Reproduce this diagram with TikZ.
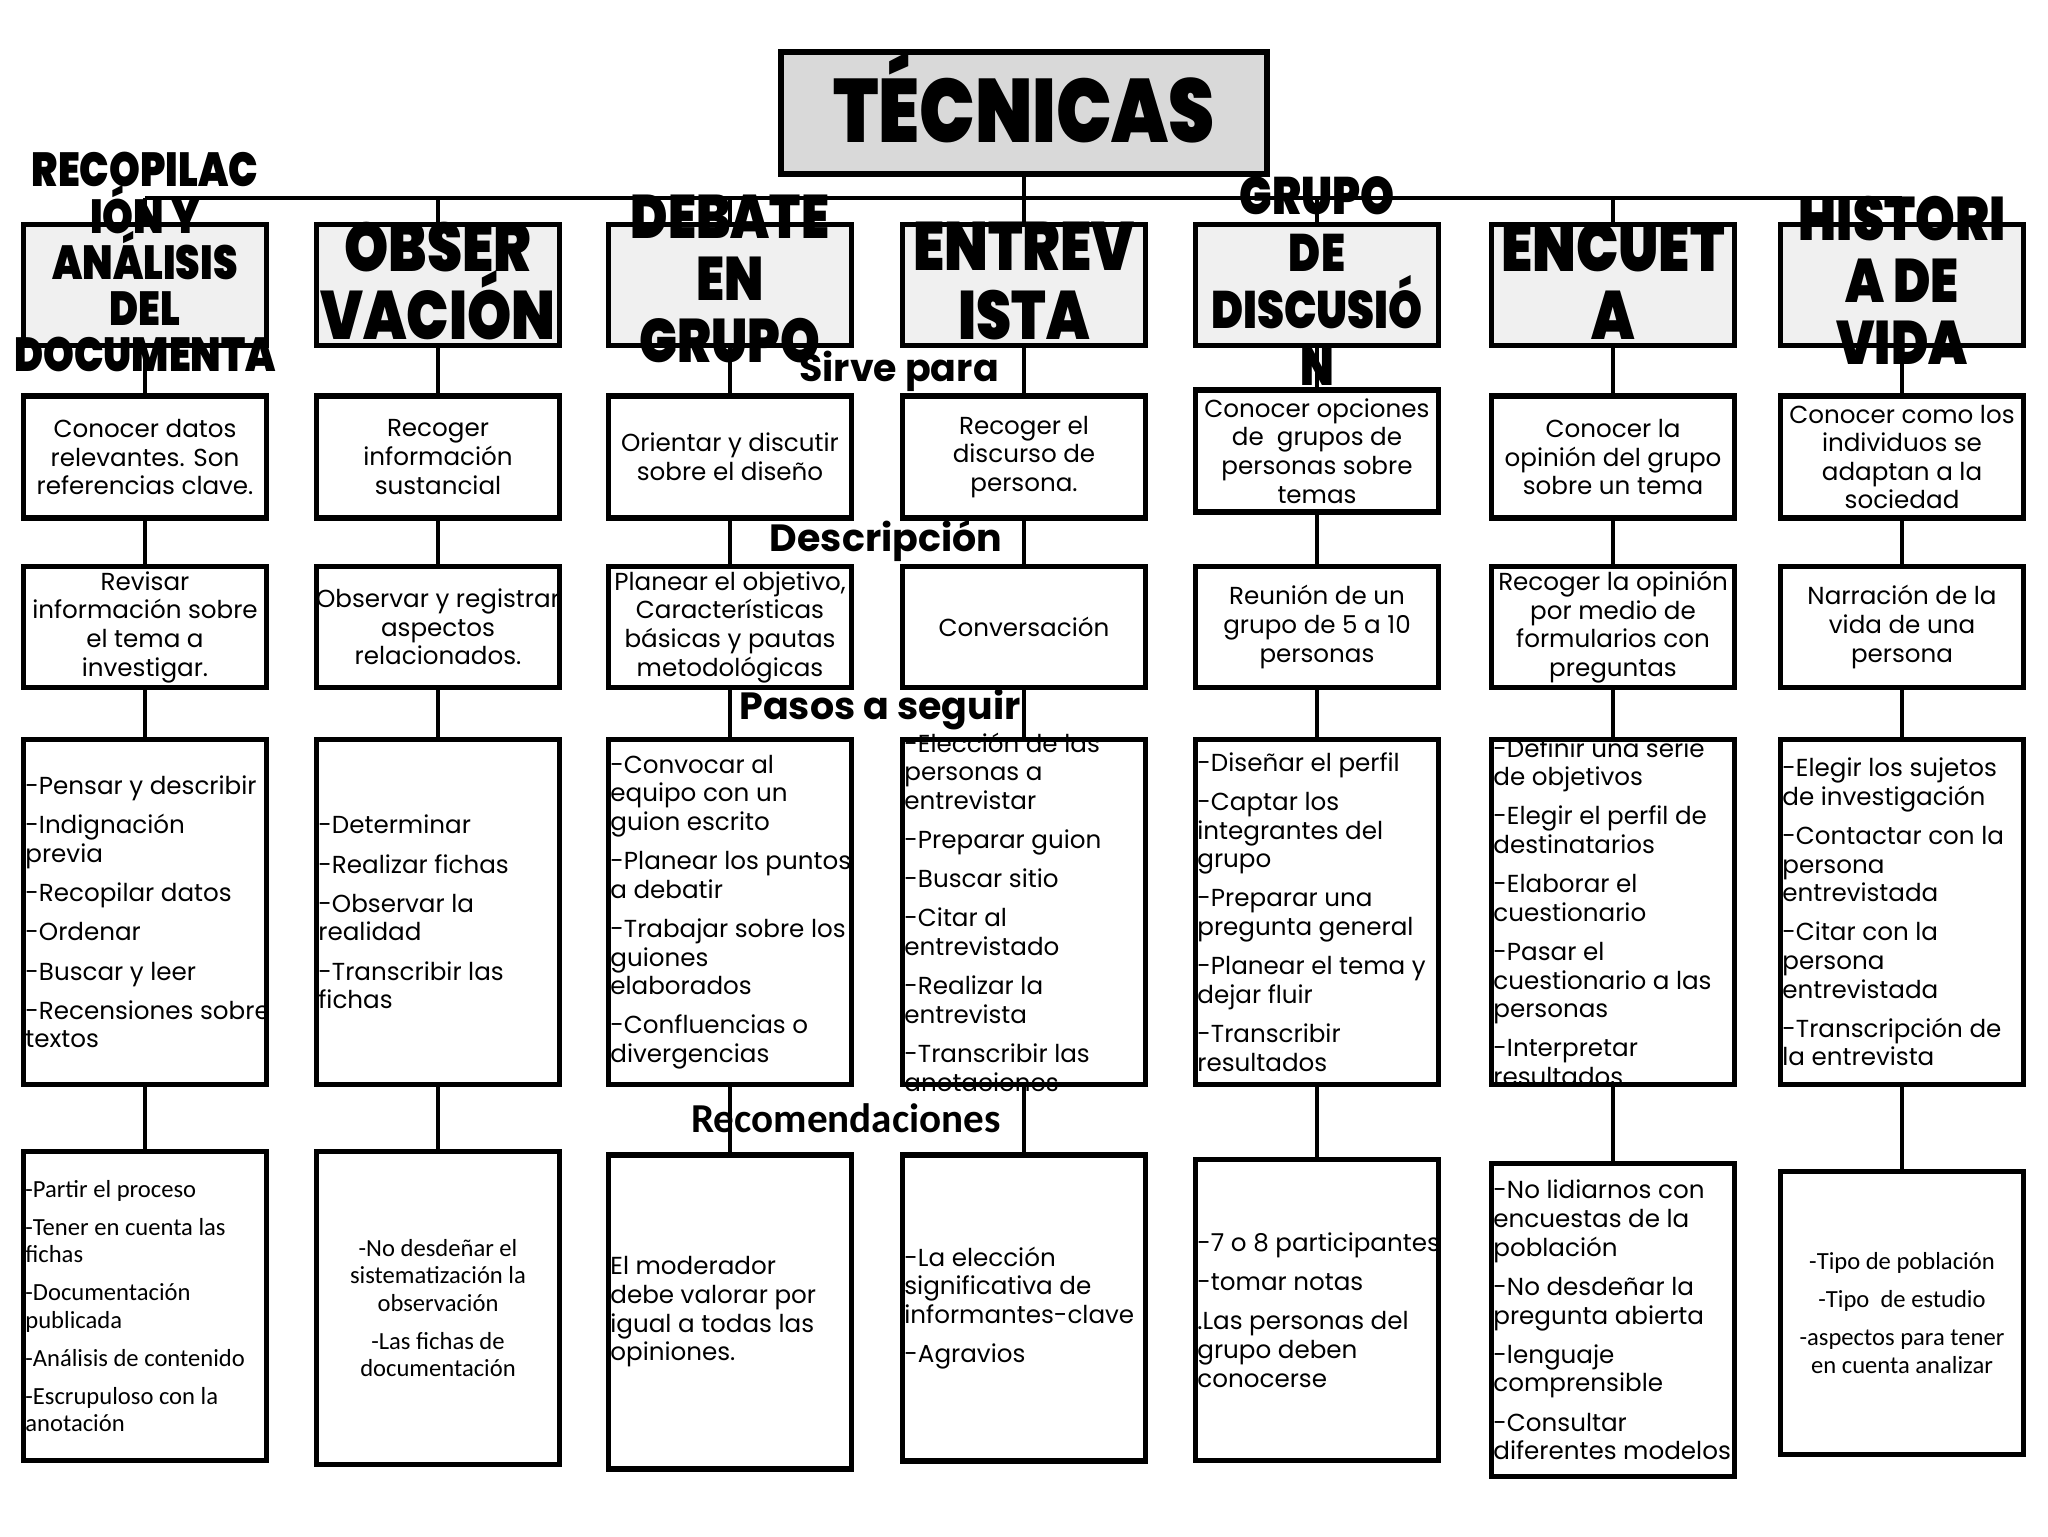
\documentclass[tikz,border=0pt]{standalone}
\usepackage{fontspec}
\setmainfont{Poppins}
\newfontfamily\clfont{Carlito}
\IfFontExistsTF{Poppins Black}
  {\newfontfamily\hdfont{Poppins Black}[BoldFont={Poppins Black}]\def\hdscale{0.82}}
  {\newfontfamily\hdfont{Poppins}\def\hdscale{0.86}}
\usepackage{graphicx}
\usepackage{tikz}
\usetikzlibrary{positioning,calc}
\definecolor{tcGrey} {RGB}{217,217,217}
\definecolor{tcGreyL}{RGB}{240,240,240}
\newcommand{\tcword}[1]{\scalebox{\hdscale}[1]{\vbox{\lineskiplimit=-\maxdimen
  \halign{\hfil##\hfil\cr#1\crcr}}}}
\newcommand{\tcgap}{\\[3pt]}

\begin{document}
\begin{tikzpicture}[x=0.1mm,y={(0,-0.1mm)},
  every node/.style={inner sep=0pt,font=\fontsize{7}{8.15}\selectfont},
  box/.style={draw,line width=1.6pt,fill=white,minimum width=24.3mm},
  hbox/.style={box,fill=tcGreyL,minimum height=12.1mm},
  tbox/.style={draw,line width=1.8pt,fill=tcGrey,minimum width=48.6mm,minimum height=12.2mm},
  link/.style={line width=1.2pt},
  ctxt/.style={align=center},
  ltxt/.style={align=left,anchor=west,xshift=0.4mm},
  cal/.style={font=\clfont\fontsize{7}{7.8}\selectfont},
  head/.style={font=\hdfont\bfseries\fontsize{19.5}{19.6}\selectfont},
  lbl/.style={font=\bfseries\fontsize{10.8}{12}\selectfont}
]
\useasboundingbox (0,0) rectangle (2048,1536);

% title
\node[tbox] (T) at (1024,113) {};

% boxes, column by column
\foreach \c/\x/\sy/\ry/\rh in {1/145/457/1306/309,2/438/457/1308/313,
    3/730/457/1312/314,4/1024/457/1308/306,5/1317/451/1310/301,
    6/1613/457/1320/313,7/1902/457/1313/283}{
  \node[hbox] (h\c) at (\x,285) {};
  \node[box,minimum height=12.2mm] (s\c) at (\x,\sy) {};
  \node[box,minimum height=12.1mm] (d\c) at (\x,627) {};
  \node[box,minimum height=34.5mm] (p\c) at (\x,912) {};
  \node[box,minimum height=\rh*0.1mm] (r\c) at (\x,\ry) {};
}

% row labels
\node[lbl] (lsirve) at (899,371) {Sirve para};
\node[lbl] (ldesc) at (886,541) {Descripción};
\node[lbl] (lpasos) at (880,709) {Pasos a seguir};
\node[lbl,font=\clfont\bfseries\fontsize{11.7}{13}\selectfont] (lrec) at (846,1118) {Recomendaciones};

% connectors
\coordinate (bar) at (0,198);
\draw[link] (h1.north |- bar) -- (h7.north |- bar);
\draw[link] (T) -- (h4);
\foreach \c in {1,...,7}{
  \draw[link] (h\c.north |- bar) -- (h\c);
  \draw[link] (h\c) -- (s\c);
  \draw[link] (s\c) -- (d\c);
  \draw[link] (d\c) -- (p\c);
  \draw[link] (p\c) -- (r\c);
}

% headings
\node[head,font=\hdfont\bfseries\fontsize{25.6}{26}\selectfont] (Tt) at (1024,97) {\tcword{TÉCNICAS}};
\node[head,font=\hdfont\bfseries\fontsize{13.6}{13.1}\selectfont] (h1t) at (145,262)
   {\tcword{RECOPILAC\cr IÓN Y\cr ANÁLISIS\cr DEL\cr DOCUMENTA}};
\node[head] (h2t) at (438,281) {\tcword{OBSER\cr VACIÓN}};
\node[head,font=\hdfont\bfseries\fontsize{17.5}{17.6}\selectfont] (h3t) at (730,279)
   {\tcword{DEBATE\cr EN\cr GRUPO}};
\node[head] (h4t) at (1024,281) {\tcword{ENTREV\cr ISTA}};
\node[head,font=\hdfont\bfseries\fontsize{15}{16.2}\selectfont] (h5t) at (1317,281)
   {\tcword{GRUPO\cr DE\cr DISCUSIÓ\cr N}};
\node[head] (h6t) at (1613,281) {\tcword{ENCUET\cr A}};
\node[head,font=\hdfont\bfseries\fontsize{17.5}{17.6}\selectfont] (h7t) at (1902,280)
   {\tcword{HISTORI\cr A DE\cr VIDA}};

% sirve para
\node[ctxt] (s1t) at (s1) {Conocer datos\\relevantes. Son\\referencias clave.};
\node[ctxt] (s2t) at (s2) {Recoger\\información\\sustancial};
\node[ctxt] (s3t) at (s3) {Orientar y discutir\\sobre el diseño};
\node[ctxt] (s4t) at (s4) {Recoger el\\discurso de\\persona.};
\node[ctxt] (s5t) at (s5) {Conocer opciones\\de\ \ grupos de\\personas sobre\\temas};
\node[ctxt] (s6t) at (s6) {Conocer la\\opinión del grupo\\sobre un tema};
\node[ctxt] (s7t) at (s7) {Conocer como los\\individuos se\\adaptan a la\\sociedad};

% descripcion
\node[ctxt] (d1t) at (d1) {Revisar\\información sobre\\el tema a\\investigar.};
\node[ctxt] (d2t) at (d2) {Observar y registrar\\aspectos\\relacionados.};
\node[ctxt] (d3t) at (d3) {Planear el objetivo,\\Características\\básicas y pautas\\metodológicas};
\node[ctxt] (d4t) at (d4) {Conversación};
\node[ctxt] (d5t) at (d5) {Reunión de un\\grupo de 5 a 10\\personas};
\node[ctxt] (d6t) at (d6) {Recoger la opinión\\por medio de\\formularios con\\preguntas};
\node[ctxt] (d7t) at (d7) {Narración de la\\vida de una\\persona};

% pasos a seguir
\node[ltxt] (p1t) at (p1.west) {-Pensar y describir\tcgap -Indignación\\previa\tcgap
   -Recopilar datos\tcgap -Ordenar\tcgap -Buscar y leer\tcgap -Recensiones sobre\\textos};
\node[ltxt] (p2t) at (p2.west) {-Determinar\tcgap -Realizar fichas\tcgap
   -Observar la\\realidad\tcgap -Transcribir las\\fichas};
\node[ltxt] (p3t) at (p3.west) {-Convocar al\\equipo con un\\guion escrito\tcgap
   -Planear los puntos\\a debatir\tcgap -Trabajar sobre los\\guiones\\elaborados\tcgap
   -Confluencias o\\divergencias};
\node[ltxt] (p4t) at (p4.west) {-Elección de las\\personas a\\entrevistar\tcgap
   -Preparar guion\tcgap -Buscar sitio\tcgap -Citar al\\entrevistado\tcgap
   -Realizar la\\entrevista\tcgap -Transcribir las\\anotaciones};
\node[ltxt] (p5t) at (p5.west) {-Diseñar el perfil\tcgap -Captar los\\integrantes del\\grupo\tcgap
   -Preparar una\\pregunta general\tcgap -Planear el tema y\\dejar fluir\tcgap
   -Transcribir\\resultados};
\node[ltxt] (p6t) at (p6.west) {-Definir una serie\\de objetivos\tcgap
   -Elegir el perfil de\\destinatarios\tcgap -Elaborar el\\cuestionario\tcgap
   -Pasar el\\cuestionario a las\\personas\tcgap -Interpretar\\resultados};
\node[ltxt] (p7t) at (p7.west) {-Elegir los sujetos\\de investigación\tcgap
   -Contactar con la\\persona\\entrevistada\tcgap -Citar con la\\persona\\entrevistada\tcgap
   -Transcripción de\\la entrevista};

% recomendaciones
\node[ltxt,cal] (r1t) at (r1.west) {-Partir el proceso\tcgap -Tener en cuenta las\\fichas\tcgap
   -Documentación\\publicada\tcgap -Análisis de contenido\tcgap -Escrupuloso con la\\anotación};
\node[ctxt,cal] (r2t) at (r2) {-No desdeñar el\\sistematización la\\observación\tcgap
   -Las fichas de\\documentación};
\node[ltxt] (r3t) at (r3.west) {El moderador\\debe valorar por\\igual a todas las\\opiniones.};
\node[ltxt] (r4t) at (r4.west) {-La elección\\significativa de\\informantes-clave\tcgap -Agravios};
\node[ltxt] (r5t) at (r5.west) {-7 o 8 participantes\tcgap -tomar notas\tcgap
   .Las personas del\\grupo deben\\conocerse};
\node[ltxt] (r6t) at (r6.west) {-No lidiarnos con\\encuestas de la\\población\tcgap
   -No desdeñar la\\pregunta abierta\tcgap -lenguaje\\comprensible\tcgap
   -Consultar\\diferentes modelos};
\node[ctxt,cal] (r7t) at (r7) {-Tipo de población\tcgap -Tipo\ \ de estudio\tcgap
   -aspectos para tener\\en cuenta analizar};
\end{tikzpicture}
\end{document}
